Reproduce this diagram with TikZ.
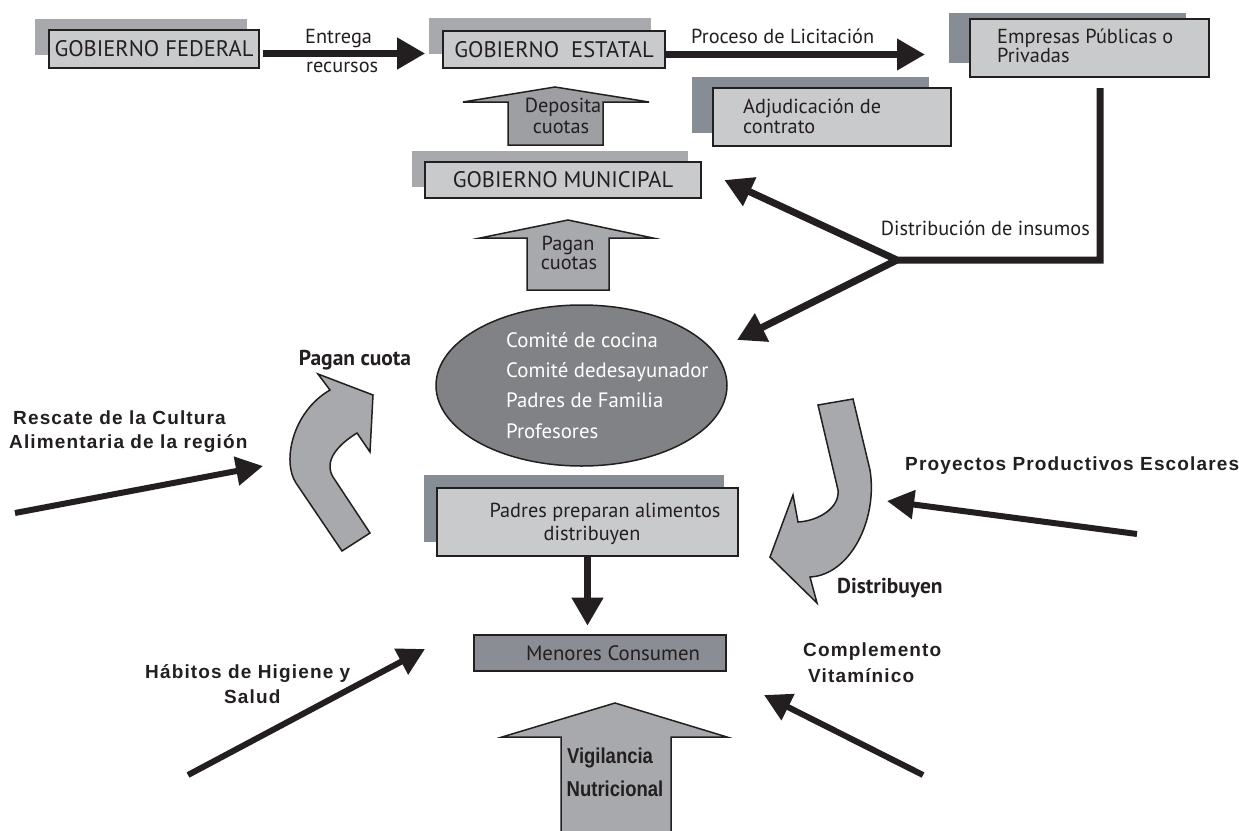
\documentclass[tikz,border=0pt]{standalone}
\usepackage{fontspec}
\setmainfont{PT Sans}
\newfontfamily\helv[LetterSpace=6]{Liberation Sans}
\newfontfamily\helvnarrow[FakeStretch=0.86]{Liberation Sans}
\usetikzlibrary{arrows.meta,shapes.geometric}

\definecolor{ink}{HTML}{231F20}
\definecolor{boxfill}{HTML}{C9CACC}
\definecolor{shadelight}{HTML}{A7A9AC}
\definecolor{shadedark}{HTML}{878D94}
\definecolor{ovalfill}{HTML}{808285}
\definecolor{blockfill}{HTML}{A7A9AC}
\definecolor{menoresfill}{HTML}{8A8E94}

\tikzset{
  card/.style={draw=ink, line width=2.6pt, fill=boxfill, inner sep=0pt},
  txt/.style={text=ink, inner sep=0pt, font=\fontsize{20.3}{22}\selectfont},
  captxt/.style={text=ink, inner sep=0pt, font=\fontsize{22.5}{25}\selectfont},
  ovaltxt/.style={text=white, inner sep=0pt, anchor=base west, font=\fontsize{20.8}{23}\selectfont},
  boldtxt/.style={text=ink, inner sep=0pt, font=\helv\bfseries\fontsize{19}{22}\selectfont},
  vigtxt/.style={text=ink, inner sep=0pt, font=\helvnarrow\bfseries\fontsize{21.5}{24}\selectfont},
  myrbold/.style={text=ink, inner sep=0pt, font=\bfseries\fontsize{21.5}{24}\selectfont},
  flow/.style={draw=ink, line width=7pt, -{Triangle[length=28pt,width=30pt]}},
  thinflow/.style={draw=ink, line width=6pt, -{Triangle[length=27pt,width=28pt]}},
  block/.style={draw=ink, line width=1.5pt, fill=blockfill, line join=miter},
}

\begin{document}
\begin{tikzpicture}[x=1pt,y=-1pt]
\fill[white] (0,0) rectangle (1239,830);
\useasboundingbox (0,0) rectangle (1239,830);

% ---- government boxes with offset shadows
\fill[shadelight] (35,19) rectangle (247,55);
\node[card, minimum width=210pt, minimum height=38pt, captxt] (fed) at (154,49) {GOBIERNO FEDERAL};

\fill[shadelight] (429,18) rectangle (651,54);
\node[card, minimum width=222pt, minimum height=37pt, captxt] (est) at (554,49.5) {GOBIERNO~~ESTATAL};

\fill[shadelight] (412,151) rectangle (688,187);
\node[card, minimum width=276pt, minimum height=36pt, captxt] (mun) at (563,180) {GOBIERNO MUNICIPAL};

% ---- suppliers and contract
\fill[shadedark] (949,13) rectangle (1186,63);
\node[card, minimum width=239pt, minimum height=58pt] (emp) at (1089.5,48) {};
\node[txt, anchor=base west] (emp1) at (997,43) {Empresas Públicas o};
\node[txt, anchor=base west] (emp2) at (997,62) {Privadas};

\fill[shadedark] (692,77) rectangle (929,133);
\node[card, minimum width=238pt, minimum height=58pt] (adj) at (832,117) {};
\node[txt, anchor=base west] (adj1) at (743,113) {Adjudicación de};
\node[txt, anchor=base west] (adj2) at (743,133) {contrato};

% ---- top flows
\node[txt, anchor=base west] (entrega) at (305,43) {Entrega};
\node[txt, anchor=base west] (recursos) at (306,72) {recursos};
\draw[flow] ([xshift=3pt,yshift=-4.5pt]fed.east) -- ([xshift=-16.5pt,yshift=-4pt]est.west);

\node[txt, anchor=base west] (proceso) at (691,43) {Proceso de Licitación};
\coordinate (proctip) at (925,54.5);
\draw[flow] ([yshift=-5pt]est.east) -- (proctip);

% ---- distribution of supplies
\coordinate (dtop) at (1100,88);
\coordinate (djunc) at (897,260);
\coordinate (ovaltip) at (737,340);
\node[txt, anchor=base east] (distlbl) at (1090,235) {Distribución de insumos};
\draw[flow, line join=miter] (dtop) |- (djunc) -- ([xshift=22pt]mun.east);
\draw[flow] (djunc) -- (ovaltip);

% ---- block arrows between government levels
\draw[block, fill=blockfill!94!black] (555,87) -- (649,102) -- (603,102) -- (603,145) -- (508,145) -- (508,102) -- (463,102) -- cycle;
\node[txt, anchor=base] (dep1) at (563,112) {Deposita};
\node[txt, anchor=base] (dep2) at (561,133) {cuotas};

\draw[block] (568,220) -- (653,238) -- (609,238) -- (609,290) -- (527,290) -- (527,238) -- (480,238) -- cycle;
\node[txt, anchor=base] (pag1) at (568,250) {Pagan};
\node[txt, anchor=base] (pag2) at (569,269) {cuotas};

% ---- committees
\node[ellipse, draw=ink, line width=1.5pt, fill=ovalfill, minimum width=291pt, minimum height=161pt, inner sep=0pt] (oval) at (581.5,385.5) {};
\node[ovaltxt] (c1) at (506,347) {Comité de cocina};
\node[ovaltxt] (c2) at (506,377) {Comité dedesayunador};
\node[ovaltxt] (c3) at (506,407) {Padres de Familia};
\node[ovaltxt] (c4) at (506,438) {Profesores};

% ---- curved arrow: fees paid
\node[myrbold, anchor=base] (pcuota) at (355,365) {Pagan cuota};
\draw[block] (342,551) -- (296,483) .. controls (282,462) and (292,412) .. (330,390)
  -- (318,374) -- (373,395) -- (370,452) -- (357,433)
  .. controls (336,446) and (322,463) .. (335,480) -- (370,533) -- cycle;

% ---- curved arrow: distribution
\node[myrbold, anchor=base west] (distrib) at (837,593) {Distribuyen};
\draw[block] (818,405) -- (853,399) -- (870,470) .. controls (878,520) and (850,575) .. (810,577)
  -- (817,603) -- (770,557) -- (793,495) -- (798,522)
  .. controls (818,521) and (840,508) .. (838,490) -- cycle;

% ---- parents prepare food
\fill[shadedark] (424,475) rectangle (724,542);
\node[card, minimum width=301pt, minimum height=68pt] (padres) at (587.5,522) {};
\node[txt, anchor=base] (pad1) at (605,517) {Padres preparan alimentos};
\node[txt, anchor=base] (pad2) at (592,540) {distribuyen};

% ---- children consume
\node[card, fill=menoresfill, minimum width=252pt, minimum height=36pt] (menores) at (600,653) {};
\node[txt, font=\fontsize{20.8}{22}\selectfont] (men) at (613,653) {Menores Consumen};
\draw[flow, shorten >=8pt] (padres.south) -- (padres.south |- menores.north);

% ---- outside contributions
\node[boldtxt, anchor=base west] (resc1) at (13,424) {Rescate de la Cultura};
\node[boldtxt, anchor=base west] (resc2) at (9,448) {Alimentaria de la región};
\coordinate (rescA) at (15,513);
\coordinate (rescB) at (263,466);
\draw[thinflow] (rescA) -- (rescB);

\node[boldtxt, anchor=base west] (proy) at (905,470) {Proyectos Productivos Escolares};
\coordinate (proyA) at (1137,534);
\coordinate (proyB) at (887,501);
\draw[thinflow] (proyA) -- (proyB);

\node[boldtxt, anchor=base west] (hab1) at (145,678) {Hábitos de Higiene y};
\node[boldtxt, anchor=base west] (hab2) at (224,703) {Salud};
\coordinate (habA) at (188,775);
\coordinate (habB) at (425,649);
\draw[thinflow] (habA) -- (habB);

\node[boldtxt, anchor=base west] (comp1) at (803,656) {Complemento};
\node[boldtxt, anchor=base west] (comp2) at (808,682) {Vitamínico};
\coordinate (compA) at (923,775);
\coordinate (compB) at (764,695);
\draw[thinflow] (compA) -- (compB);

% ---- nutritional surveillance
\draw[block] (615,703) -- (727,737) -- (671,737) -- (671,834) -- (561,834) -- (561,737) -- (502,737) -- cycle;
\node[vigtxt, anchor=base] (vig1) at (610,763) {Vigilancia};
\node[vigtxt, anchor=base] (vig2) at (615,796) {Nutricional};
\end{tikzpicture}
\end{document}
